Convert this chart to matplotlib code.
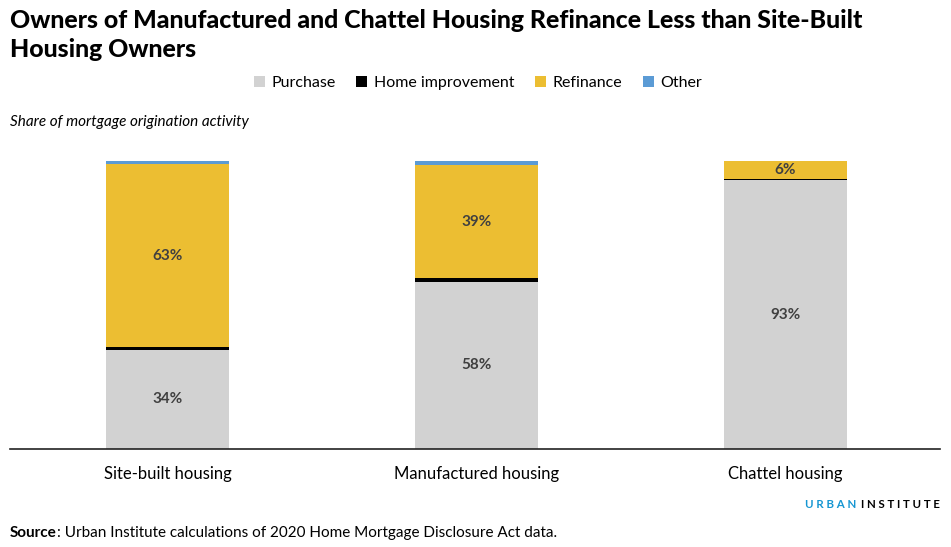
import matplotlib.pyplot as plt
import numpy as np

# Dados do gráfico
categorias = ['Site-built housing', 'Manufactured housing', 'Chattel housing']
compra = [34.4, 58.0, 93.3]
melhoria = [1.1, 1.3, 0.3]
refinanciamento = [63.3, 39.2, 6.4]
outros = [1.2, 1.5, 0.0]

series = ['Purchase', 'Home improvement', 'Refinance', 'Other']
cores = ['#d2d2d2', '#000000', '#ecbe32', '#5b9bd5']

plt.rcParams['font.family'] = ['Lato', 'DejaVu Sans']

fig = plt.figure(figsize=(9.51, 5.47), dpi=100)
ax = fig.add_axes([10 / 951, 98 / 547, 930 / 951, 288 / 547])

x = np.arange(len(categorias))
largura = 0.40
base = np.zeros(len(categorias))
for nome, valores, cor in zip(series, [compra, melhoria, refinanciamento, outros], cores):
    ax.bar(x, valores, largura, bottom=base, color=cor, label=nome, linewidth=0)
    base = base + np.array(valores)

# Rótulos de porcentagem
for i in range(len(categorias)):
    ax.text(x[i], compra[i] / 2, f'{round(compra[i])}%', ha='center', va='center',
            fontsize=11, fontweight='bold', color='#404040')
    meio = compra[i] + melhoria[i] + refinanciamento[i] / 2
    ax.text(x[i], meio, f'{round(refinanciamento[i])}%', ha='center', va='center',
            fontsize=11, fontweight='bold', color='#404040')

ax.set_xlim(-0.51, 2.5)
ax.set_ylim(0, 100)
ax.set_yticks([])
ax.set_xticks(x)
ax.set_xticklabels(categorias, fontsize=12)
ax.tick_params(axis='x', length=0, pad=12)
for lado in ['top', 'right', 'left']:
    ax.spines[lado].set_visible(False)
ax.spines['bottom'].set_color('#222222')
ax.spines['bottom'].set_linewidth(1.2)

# Título e textos
fig.text(10 / 951, 1 - 9 / 547,
         'Owners of Manufactured and Chattel Housing Refinance Less than Site-Built\nHousing Owners',
         ha='left', va='top', fontsize=17.9, fontweight=900, linespacing=1.3)
fig.legend(loc='center', bbox_to_anchor=(478 / 951, 1 - 83 / 547), ncol=4, frameon=False,
           fontsize=11.5, handlelength=0.7, handleheight=0.7, handletextpad=0.4,
           columnspacing=1.3)
fig.text(10 / 951, 1 - 122 / 547, 'Share of mortgage origination activity',
         ha='left', va='center', fontsize=11, style='italic')

fonte = fig.text(10 / 951, 1 - 533 / 547, 'Source', ha='left', va='center', fontsize=11,
                 fontweight='bold')
renderer = fig.canvas.get_renderer()
caixa = fonte.get_window_extent(renderer)
fig.text(caixa.x1 / 951, 1 - 533 / 547,
         ': Urban Institute calculations of 2020 Home Mortgage Disclosure Act data.',
         ha='left', va='center', fontsize=11)

fig.text(856 / 951, 1 - 505 / 547, 'U R B A N', ha='right', va='center', fontsize=8.3,
         fontweight='bold', color='#1696d2')
fig.text(861 / 951, 1 - 505 / 547, 'I N S T I T U T E', ha='left', va='center', fontsize=8.3,
         fontweight='bold', color='#000000')

fig.savefig('out.png', dpi=100)
